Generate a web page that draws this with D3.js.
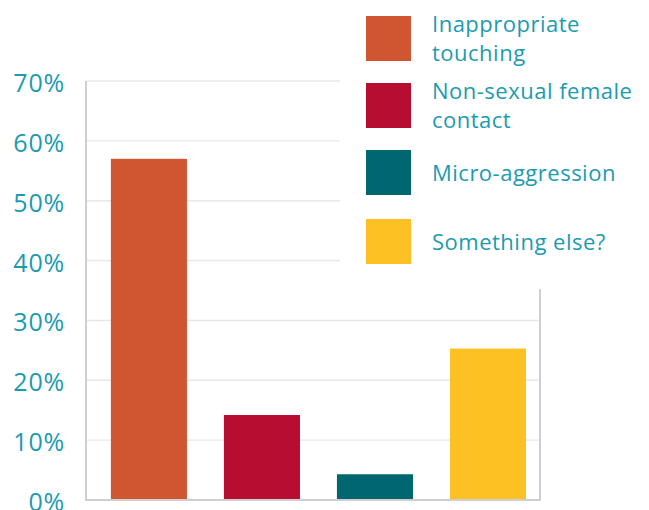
<!DOCTYPE html>
<html>
<head>
<meta charset="utf-8">
<script src="https://cdn.jsdelivr.net/npm/d3@7"></script>
<style>
  body { margin: 0; background: #fff; }
  svg { display: block; font-family: "Open Sans", sans-serif; }
  .tick text { fill: #1b9bb0; }
</style>
</head>
<body>
<svg id="chart" width="649" height="510"></svg>
<script>
const categories = ["Inappropriate touching", "Non-sexual female contact", "Micro-aggression", "Something else?"];
const legendLines = [["Inappropriate", "touching"], ["Non-sexual female", "contact"], ["Micro-aggression"], ["Something else?"]];
const values = [0.57, 0.142, 0.043, 0.253];
const colors = ["#d05631", "#b70d30", "#00666f", "#fdc124"];
const yTicks = [0, 0.1, 0.2, 0.3, 0.4, 0.5, 0.6, 0.7];

const textColor = "#1b9bb0";
const svg = d3.select("#chart");

const plotLeft = 86, plotRight = 540, plotTop = 81, plotBottom = 500;

const x = d3.scaleBand()
  .domain(categories)
  .range([plotLeft, plotRight])
  .paddingInner(0.327)
  .paddingOuter(0.172)
  .align(0.64);

const y = d3.scaleLinear()
  .domain([0, 0.7])
  .range([plotBottom, plotTop]);

// gridlines
svg.append("g")
  .selectAll("line")
  .data(yTicks.slice(1))
  .join("line")
  .attr("x1", plotLeft)
  .attr("x2", plotRight)
  .attr("y1", (d) => y(d))
  .attr("y2", (d) => y(d))
  .attr("stroke", "#e8e8e8")
  .attr("stroke-width", 1.4);

// right frame line
svg.append("line")
  .attr("x1", plotRight).attr("x2", plotRight)
  .attr("y1", plotTop).attr("y2", plotBottom)
  .attr("stroke", "#cfcfcf")
  .attr("stroke-width", 2);

// legend background hides the grid behind it
const legend = svg.append("g");
legend.append("rect")
  .attr("x", 340).attr("y", 0)
  .attr("width", 309).attr("height", 289)
  .attr("fill", "#fff");

// bars
svg.append("g")
  .selectAll("rect")
  .data(values)
  .join("rect")
  .attr("x", (d, i) => x(categories[i]))
  .attr("y", (d) => y(d))
  .attr("width", x.bandwidth())
  .attr("height", (d) => y(0) - y(d))
  .attr("fill", (d, i) => colors[i]);

// y axis
svg.append("g")
  .attr("transform", `translate(${plotLeft - 21}, 0)`)
  .call(d3.axisLeft(y).tickValues(yTicks).tickFormat(d3.format(".0%")).tickSize(0).tickPadding(0))
  .call((g) => {
    g.select(".domain").remove();
    g.selectAll(".tick text")
      .attr("font-size", 25)
      .attr("letter-spacing", 0.8)
      .attr("dy", "0.42em")
      .attr("font-family", "\"Open Sans\", sans-serif");
  });

// axis lines
svg.append("line")
  .attr("x1", plotLeft).attr("x2", plotLeft)
  .attr("y1", plotTop).attr("y2", plotBottom)
  .attr("stroke", "#cfcfcf").attr("stroke-width", 2);
svg.append("line")
  .attr("x1", plotLeft - 1).attr("x2", plotRight + 1)
  .attr("y1", plotBottom).attr("y2", plotBottom)
  .attr("stroke", "#cfcfcf").attr("stroke-width", 2);

// legend items
const swatchY = [16, 83, 150, 219];
const item = legend.selectAll("g.item")
  .data(categories)
  .join("g")
  .attr("class", "item")
  .attr("transform", (d, i) => `translate(366, ${swatchY[i]})`);

item.append("rect")
  .attr("width", 45).attr("height", 45)
  .attr("fill", (d, i) => colors[i]);

item.append("text")
  .attr("fill", textColor)
  .attr("font-size", 22)
  .attr("letter-spacing", 0.5)
  .each(function (d, i) {
    const lines = legendLines[i];
    const t = d3.select(this);
    const y0 = lines.length === 1 ? 31 : 16;
    lines.forEach((ln, j) => {
      t.append("tspan").attr("x", 66).attr("y", y0 + j * 29).text(ln);
    });
  });
</script>
</body>
</html>
